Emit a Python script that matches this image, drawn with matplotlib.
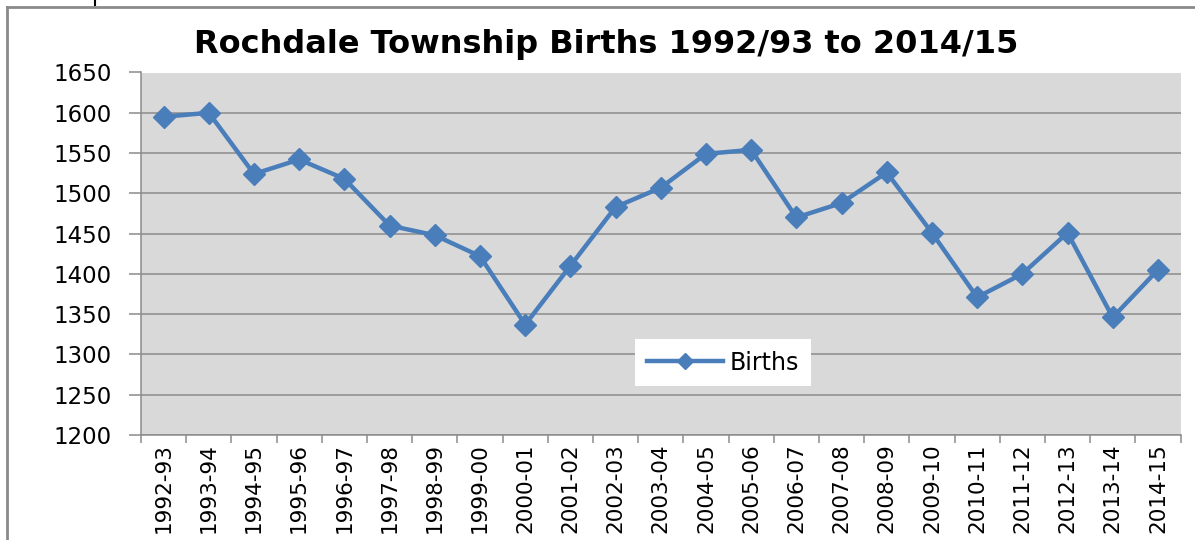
#!/usr/bin/env python3
"""Rochdale Township births 1992/93 to 2014/15, Excel-style line chart."""

import matplotlib

matplotlib.use("Agg")
import matplotlib.pyplot as plt
from matplotlib.lines import Line2D

seasons = [
    "1992-93", "1993-94", "1994-95", "1995-96", "1996-97", "1997-98",
    "1998-99", "1999-00", "2000-01", "2001-02", "2002-03", "2003-04",
    "2004-05", "2005-06", "2006-07", "2007-08", "2008-09", "2009-10",
    "2010-11", "2011-12", "2012-13", "2013-14", "2014-15",
]
births = [
    1595, 1600, 1524, 1542, 1518, 1460, 1448, 1422, 1337, 1410, 1483, 1507,
    1549, 1554, 1470, 1488, 1526, 1451, 1371, 1400, 1451, 1346, 1405,
]
y_ticks = list(range(1200, 1651, 50))

BLUE = "#4a7ebb"
GRID = "#8c8c8c"

W, H = 1195, 540
fig = plt.figure(figsize=(W / 100, H / 100), dpi=100, facecolor="white")
ax = fig.add_axes([141 / W, 1 - 435 / H, (1180.5 - 141) / W, (435 - 72.5) / H])
ax.set_facecolor("#d9d9d9")

x = list(range(len(seasons)))
ax.plot(x, births, color=BLUE, lw=3.2, marker="D", ms=11,
        markeredgecolor=BLUE, label="Births", zorder=3)

ax.set_xlim(-0.5, len(seasons) - 0.5)
ax.set_ylim(1200, 1650)
ax.set_yticks(y_ticks)
ax.set_yticklabels([str(v) for v in y_ticks], fontsize=16.5)
ax.grid(axis="y", color=GRID, lw=1.1)
ax.set_axisbelow(True)

# category labels at centres, tick marks between categories
ax.set_xticks(x)
ax.set_xticklabels(seasons, rotation=90, fontsize=15.5)
ax.set_xticks([i - 0.5 for i in range(len(seasons) + 1)], minor=True)
ax.tick_params(axis="x", which="major", length=0, pad=6)
ax.tick_params(axis="x", which="minor", length=6, color=GRID, width=1.1)
ax.tick_params(axis="y", length=9, color=GRID, width=1.1, pad=12)

for side in ("top", "right"):
    ax.spines[side].set_visible(False)
for side in ("left", "bottom"):
    ax.spines[side].set_color(GRID)
    ax.spines[side].set_linewidth(1.1)

leg = ax.legend(loc="center", bbox_to_anchor=(0.56, 0.20), fontsize=17,
                frameon=True, fancybox=False, framealpha=1, edgecolor="white",
                handlelength=3.2, handletextpad=0.3, borderpad=0.5,
                markerscale=0.75)
leg.get_frame().set_linewidth(0)

fig.text(0.5075, 1 - 44 / H, "Rochdale Township Births 1992/93 to 2014/15",
         ha="center", va="center", fontsize=23, fontweight="bold")

# outer chart frame
fig.add_artist(Line2D([7 / W, 7 / W], [0, 1 - 7 / H], color="#8a8a8a", lw=2,
                      transform=fig.transFigure))
fig.add_artist(Line2D([7 / W, 1], [1 - 7 / H, 1 - 7 / H], color="#8a8a8a", lw=2,
                      transform=fig.transFigure))
fig.add_artist(Line2D([95 / W, 95 / W], [1, 1 - 5 / H], color="black", lw=1.5,
                      transform=fig.transFigure))

fig.savefig("out.png", dpi=100, facecolor="white")
